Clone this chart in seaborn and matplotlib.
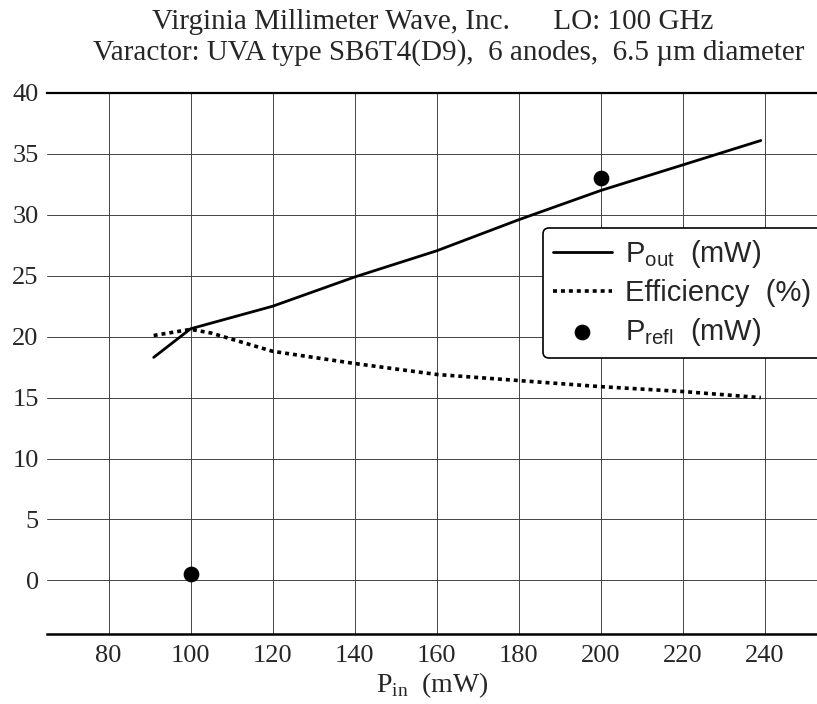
import numpy as np
import pandas as pd
import seaborn as sns
import matplotlib
matplotlib.use("Agg")
import matplotlib.pyplot as plt

# data
pin_out = [91, 100, 120, 140, 160, 180, 200, 220, 239]
pout = [18.3, 20.65, 22.5, 24.9, 27.05, 29.6, 32.0, 34.1, 36.1]

pin_eff = [91, 100, 105, 120, 140, 160, 180, 200, 220, 239]
eff = [20.1, 20.6, 20.3, 18.8, 17.8, 16.9, 16.4, 15.9, 15.5, 15.0]

pin_refl = [100, 200]
prefl = [0.5, 33.0]

x_ticks = [80, 100, 120, 140, 160, 180, 200, 220, 240]
y_ticks = [0, 5, 10, 15, 20, 25, 30, 35, 40]

sns.set_style("white")
plt.rcParams["font.family"] = ["Liberation Serif", "DejaVu Serif"]
plt.rcParams["mathtext.fontset"] = "custom"
plt.rcParams["mathtext.rm"] = "Liberation Serif"
plt.rcParams["mathtext.sf"] = "Liberation Sans"

df_out = pd.DataFrame({"pin": pin_out, "val": pout})
df_eff = pd.DataFrame({"pin": pin_eff, "val": eff})
df_refl = pd.DataFrame({"pin": pin_refl, "val": prefl})

fig = plt.figure(figsize=(8.17, 7.04), dpi=100)
ax = fig.add_axes([47 / 817, 1 - 634 / 704, 1 - 47 / 817, (634 - 93) / 704])

# grid
for xv in x_ticks:
    ax.axvline(xv, color="#444444", lw=0.7, zorder=1)
for yv in y_ticks[:-1]:
    ax.axhline(yv, color="#444444", lw=0.7, zorder=1)

sns.lineplot(data=df_out, x="pin", y="val", ax=ax, color="black", lw=2,
             label=r"P$_{\mathsf{out}}$  (mW)", zorder=3)
sns.lineplot(data=df_eff, x="pin", y="val", ax=ax, color="black", lw=2.6,
             linestyle=(0, (1.1, 1.1)), label="Efficiency  (%)", zorder=3)
sns.scatterplot(data=df_refl, x="pin", y="val", ax=ax, color="black", s=110,
                edgecolor="black", label=r"P$_{\mathsf{refl}}$  (mW)", zorder=4)

ax.set_xlim(65, 252.7)
ax.set_ylim(-4.4, 40)
ax.set_xticks(x_ticks)
ax.set_yticks(y_ticks)
ax.tick_params(axis="both", length=0, labelsize=19, pad=8)
ax.tick_params(axis="y", pad=6)
ax.set_xlabel(r"P$_{\mathrm{in}}$  (mW)", fontsize=20, labelpad=2)
ax.set_ylabel("")

for side in ["left", "right"]:
    ax.spines[side].set_visible(False)
ax.spines["top"].set_linewidth(1.6)
ax.spines["bottom"].set_linewidth(1.8)
ax.spines["top"].set_color("black")
ax.spines["bottom"].set_color("black")

# legend box runs past the right edge, as in the scan
leg_top = 1 - 228 / 704
leg_h = 132 / 704
leg = ax.legend(loc="upper left",
                bbox_to_anchor=(543 / 817, leg_top - leg_h, 0.36, leg_h),
                bbox_transform=fig.transFigure, mode="expand",
                frameon=True, fancybox=True,
                handlelength=2.0, handletextpad=0.45, borderpad=0.35,
                labelspacing=0.3, borderaxespad=0,
                prop={"family": "Liberation Sans", "size": 21})
leg.get_frame().set_edgecolor("black")
leg.get_frame().set_linewidth(1.2)
leg.get_frame().set_alpha(1)

fig.text(433 / 817, 1 - 22 / 704, "Virginia Millimeter Wave, Inc.      LO: 100 GHz",
         ha="center", va="center", fontsize=21)
fig.text(449 / 817, 1 - 53 / 704,
         "Varactor: UVA type SB6T4(D9),  6 anodes,  6.5 \u00b5m diameter",
         ha="center", va="center", fontsize=21)

fig.savefig("out.png", dpi=100)
